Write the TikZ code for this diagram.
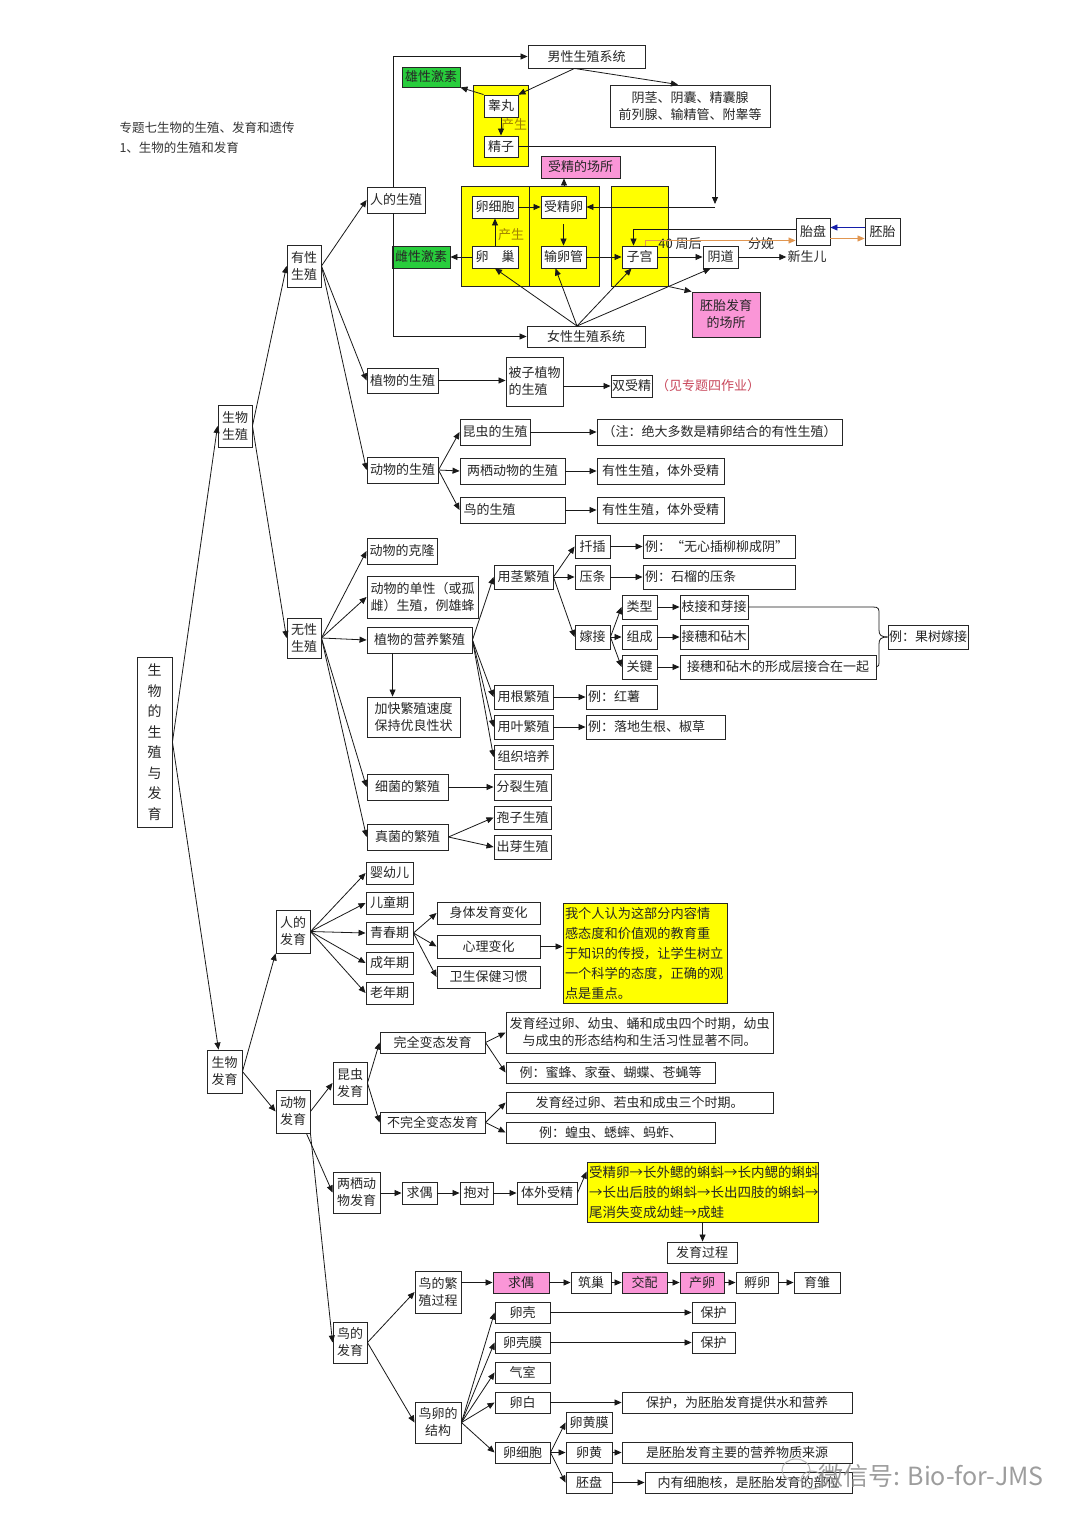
\documentclass[tikz,border=0pt]{standalone}
\usepackage{fontspec}
\setmainfont{Noto Sans CJK SC}
\usetikzlibrary{arrows.meta,calc}
\definecolor{yelC}{RGB}{255,255,0}
\definecolor{grnC}{RGB}{40,205,60}
\definecolor{pnkC}{RGB}{250,150,215}
\definecolor{orgC}{RGB}{225,150,80}
\definecolor{bluC}{RGB}{20,30,170}
\definecolor{oliC}{RGB}{160,130,0}
\definecolor{redC}{RGB}{200,70,90}
\newcommand\B[7][]{\node[bx,#1,minimum width={#5-#3},minimum height={#6-#4}] (#2) at ({(#3+#5)/2},{(#4+#6)/2}) {#7};}
\begin{document}
\begin{tikzpicture}[x=1pt,y=-1pt,
  bx/.style={draw=black!85,line width=0.9pt,fill=white,inner sep=1pt,align=center,
    font=\fontsize{13}{17}\selectfont,text=black!85},
  yrect/.style={fill=yelC},
  grn/.style={fill=grnC},
  pnk/.style={fill=pnkC},
  ybox/.style={fill=yelC,font=\fontsize{13.2}{20}\selectfont,align=left,inner sep=2pt},
  plain/.style={inner sep=1pt,font=\fontsize{13}{16}\selectfont,text=black!85},
  arr/.style={-{Triangle[length=7pt,width=6pt]},line width=0.8pt,draw=black!90},
  ln/.style={line width=0.8pt,draw=black!90}]
\useasboundingbox[fill=white] (0,0) rectangle (1080,1526);

% title
\node[anchor=west,font=\fontsize{12.5}{15}\selectfont,text=black!80] (t1) at (116,128) {专题七生物的生殖、发育和遗传};
\node[anchor=west,font=\fontsize{12.5}{15}\selectfont,text=black!80] (t2) at (116,148) {1、生物的生殖和发育};

% root
\B[font=\fontsize{14}{20.5}\selectfont]{root}{137}{657}{172}{827}{生\\物\\的\\生\\殖\\与\\发\\育}
\B{sz}{218}{405}{252}{447}{生物\\生殖}
\B{yx}{287}{245}{321}{287}{有性\\生殖}
\B{wx}{287}{618}{321}{658}{无性\\生殖}
\B{rsz}{367}{187}{425}{213}{人的生殖}

% yellow rects
\B[yrect]{my}{473}{85}{528}{166}{}
\B[yrect]{fy1}{461}{186}{529}{286}{}
\B[yrect]{fy2}{529}{186}{599}{286}{}
\B[yrect]{fy3}{611}{186}{668}{286}{}

% male
\B{nan}{528}{45}{645}{68}{男性生殖系统}
\B[grn]{xx}{402}{67}{460}{87}{雄性激素}
\B{gw}{484}{95}{518}{117}{睾丸}
\B{jz}{484}{136}{518}{157}{精子}
\node[plain,text=oliC] (cs1) at (514,125) {产生};
\B{yj}{610}{85}{770}{127}{阴茎、阴囊、精囊腺\\前列腺、输精管、附睾等}

% female
\B[pnk]{sjcs}{541}{156}{620}{178}{受精的场所}
\B{lxb}{472}{196}{518}{218}{卵细胞}
\B{sjl}{541}{196}{586}{218}{受精卵}
\B{lc}{472}{246}{518}{268}{卵　巢}
\B{slg}{541}{246}{586}{268}{输卵管}
\B{zg}{622}{246}{657}{268}{子宫}
\B[grn]{cx}{392}{246}{450}{268}{雌性激素}
\B{yd}{703}{246}{738}{268}{阴道}
\node[plain] (xse) at (807,257) {新生儿};
\node[plain] (w40) at (680,244) {40 周后};
\node[plain] (fm) at (761,244) {分娩};
\node[plain,text=oliC] (cs2) at (511,235) {产生};
\B{tp}{796}{218}{830}{245}{胎盘}
\B{pt}{865}{218}{900}{245}{胚胎}
\B[pnk]{ptfy}{692}{292}{760}{337}{胚胎发育\\的场所}
\B{nv}{527}{326}{645}{347}{女性生殖系统}

% plants & animals
\B{zwsz}{367}{368}{438}{393}{植物的生殖}
\B[align=left]{bz}{506}{357}{563}{406}{被子植物\\的生殖}
\B{ssj}{611}{375}{652}{397}{双受精}
\node[plain,anchor=west,text=redC] (jzt) at (655,386) {（见专题四作业）};
\B{dwsz}{367}{457}{438}{483}{动物的生殖}
\B{kc}{460}{419}{530}{445}{昆虫的生殖}
\B{lq}{460}{458}{565}{484}{两栖动物的生殖}
\B[text width=98pt,align=left]{nsz}{460}{497}{565}{523}{鸟的生殖}
\B{zhu}{597}{419}{842}{445}{（注：绝大多数是精卵结合的有性生殖）}
\B{yx1}{597}{458}{724}{484}{有性生殖，体外受精}
\B{yx2}{597}{497}{724}{523}{有性生殖，体外受精}

% asexual
\B{kl}{367}{538}{437}{564}{动物的克隆}
\B[align=left]{dx}{367}{576}{478}{618}{动物的单性（或孤\\雌）生殖，例雄蜂}
\B{yy}{367}{627}{472}{653}{植物的营养繁殖}
\B[align=left]{jk}{367}{697}{460}{737}{加快繁殖速度\\保持优良性状}
\B{xj}{367}{774}{448}{800}{细菌的繁殖}
\B{zj}{367}{824}{448}{850}{真菌的繁殖}
\B{yj1}{494}{565}{553}{589}{用茎繁殖}
\B{yg}{494}{685}{553}{709}{用根繁殖}
\B{yyf}{494}{715}{553}{739}{用叶繁殖}
\B{zz}{494}{745}{553}{769}{组织培养}
\B{qc}{575}{535}{610}{558}{扦插}
\B{yt}{575}{565}{610}{589}{压条}
\B{jj}{575}{625}{610}{649}{嫁接}
\B[text width=148pt,align=left]{l1}{643}{535}{795}{558}{例：“无心插柳柳成阴”}
\B[text width=148pt,align=left]{l2}{643}{565}{795}{589}{例：石榴的压条}
\B{lx}{622}{595}{657}{619}{类型}
\B{zc}{622}{625}{657}{649}{组成}
\B{gj}{622}{655}{657}{679}{关键}
\B{zjm}{680}{595}{748}{619}{枝接和芽接}
\B{jsz}{680}{625}{748}{649}{接穗和砧木}
\B{xcc}{680}{655}{876}{679}{接穗和砧木的形成层接合在一起}
\B{gs}{888}{625}{968}{649}{例：果树嫁接}
\B[text width=67pt,align=left]{hs}{586}{685}{657}{709}{例：红薯}
\B[text width=135pt,align=left]{ld}{586}{715}{725}{739}{例：落地生根、椒草}
\B{fl}{494}{774}{551}{800}{分裂生殖}
\B{bzs}{494}{806}{551}{829}{孢子生殖}
\B{cy}{494}{835}{551}{859}{出芽生殖}

% human development
\B{fy}{207}{1050}{242}{1093}{生物\\发育}
\B{rfy}{276}{910}{310}{953}{人的\\发育}
\B{yye}{366}{862}{413}{884}{婴幼儿}
\B{etq}{366}{892}{413}{914}{儿童期}
\B{qcq}{366}{922}{413}{944}{青春期}
\B{cnq}{366}{952}{413}{974}{成年期}
\B{lnq}{366}{982}{413}{1004}{老年期}
\B{stf}{437}{902}{540}{924}{身体发育变化}
\B{xlb}{437}{935}{540}{958}{心理变化}
\B{wsb}{437}{966}{540}{988}{卫生保健习惯}
\B[ybox,text width=160pt]{note}{563}{903}{727}{1003}{我个人认为这部分内容情\\感态度和价值观的教育重\\于知识的传授，让学生树立\\一个科学的态度，正确的观\\点是重点。}

% animal development
\B{dwfy}{276}{1090}{310}{1133}{动物\\发育}
\B{kcfy}{333}{1062}{367}{1104}{昆虫\\发育}
\B{wq}{380}{1032}{485}{1053}{完全变态发育}
\B{bwq}{380}{1112}{485}{1133}{不完全变态发育}
\B{wq1}{506}{1012}{773}{1053}{发育经过卵、幼虫、蛹和成虫四个时期，幼虫\\与成虫的形态结构和生活习性显著不同。}
\B{wq2}{506}{1062}{715}{1083}{例：蜜蜂、家蚕、蝴蝶、苍蝇等}
\B{bw1}{506}{1092}{773}{1113}{发育经过卵、若虫和成虫三个时期。}
\B{bw2}{506}{1122}{715}{1143}{例：蝗虫、蟋蟀、蚂蚱、}
\B{lqfy}{333}{1172}{380}{1213}{两栖动\\物发育}
\B{qo}{402}{1182}{437}{1204}{求偶}
\B{bd}{460}{1182}{493}{1204}{抱对}
\B{twsj}{517}{1182}{577}{1204}{体外受精}
\B[ybox,font=\fontsize{13.5}{20}\selectfont,text width=227pt]{kd}{587}{1162}{818}{1222}{受精卵→长外鳃的蝌蚪→长内鳃的蝌蚪\\→长出后肢的蝌蚪→长出四肢的蝌蚪→\\尾消失变成幼蛙→成蛙}
\B{fygc}{667}{1242}{737}{1263}{发育过程}

% bird
\B{nfy}{333}{1322}{367}{1363}{鸟的\\发育}
\B{nfz}{415}{1271}{461}{1313}{鸟的繁\\殖过程}
\B{njg}{415}{1402}{461}{1443}{鸟卵的\\结构}
\B[pnk]{nq}{493}{1272}{549}{1293}{求偶}
\B{zc2}{571}{1272}{611}{1293}{筑巢}
\B[pnk]{jp}{622}{1272}{667}{1293}{交配}
\B[pnk]{cl}{680}{1272}{724}{1293}{产卵}
\B{fl2}{736}{1272}{778}{1293}{孵卵}
\B{yc}{794}{1272}{840}{1293}{育雏}
\B{lk}{495}{1302}{550}{1323}{卵壳}
\B{lkm}{495}{1332}{550}{1353}{卵壳膜}
\B{qs}{495}{1362}{550}{1383}{气室}
\B{lb}{495}{1392}{550}{1413}{卵白}
\B{lxb2}{495}{1442}{550}{1463}{卵细胞}
\B{bh1}{692}{1302}{735}{1323}{保护}
\B{bh2}{692}{1332}{735}{1353}{保护}
\B{bh3}{622}{1392}{852}{1413}{保护，为胚胎发育提供水和营养}
\B{lhm}{566}{1412}{612}{1433}{卵黄膜}
\B{lh}{566}{1442}{612}{1463}{卵黄}
\B{pp}{566}{1472}{612}{1493}{胚盘}
\B{lh2}{622}{1442}{852}{1463}{是胚胎发育主要的营养物质来源}
\B{pp2}{645}{1472}{852}{1493}{内有细胞核，是胚胎发育的部位}

% ===== connectors =====
\draw[arr] (root.east) -- (sz.west);
\draw[arr] (root.east) -- ($(fy.north)+(-6,0)$);
\draw[arr] (sz.east) -- (yx.west);
\draw[arr] (sz.east) -- (wx.west);
\draw[arr] (yx.east) -- (rsz.west);
\draw[arr] (yx.east) -- (zwsz.west);
\draw[arr] (yx.east) -- (dwsz.west);

% human reproduction
\draw[arr] ($(rsz.north)+(-3,0)$) |- (nan.west);
\draw[arr] ($(rsz.south)+(-3,0)$) |- (nv.west);
\draw[arr] ($(nan.south)+(-12,0)$) -- (gw.north east);
\draw[arr] ($(nan.south)+(-12,0)$) -- ($(yj.north)+(-12,0)$);
\draw[arr] (gw.north west) -- (xx.south east);
\draw[arr] (gw.south) -- (jz.north);
\coordinate (jn) at (715,204);
\draw[arr] (jz.east) -| (jn);
\draw[arr] (jn |- sjl.east) -- (sjl.east);
\draw[arr] (fy2.north) -- (fy2.north |- sjcs.south);
\draw[arr] (lc.north) -- (lxb.south);
\draw[arr] (lxb.east) -- (sjl.west);
\draw[arr] ($(sjl.south)+(0,6)$) -- (slg.north);
\draw[arr] (slg.east) -- (zg.west);
\draw[arr] (lc.west) -- (cx.east);
\draw[arr] (zg.east) -- (yd.west);
\draw[arr] (yd.east) -- (xse.west);
\coordinate (nvt) at (577,326);
\draw[arr] (nvt) -- (lc.south);
\draw[arr] (nvt) -- ($(slg.south)+(-8,0)$);
\draw[arr] (nvt) -- ($(zg.south)+(-8,0)$);
\draw[arr] (nvt) -- ($(yd.south)+(-10,0)$);
\draw[arr] (fy3.south east) -- (ptfy.north west);
\draw[arr] ($(tp.west)+(0,-2)$) -| ($(zg.north)+(-6,0)$);
\draw[arr,draw=orgC] ($(zg.north east)+(-12,0)$) |- ($(tp.west)+(0,9)$);
\draw[arr,draw=bluC] ($(pt.west)+(0,-4)$) -- ($(tp.east)+(0,-4)$);
\draw[arr,draw=orgC] ($(tp.east)+(0,7)$) -- ($(pt.west)+(0,7)$);

% plants & animals
\draw[arr] (zwsz.east) -- (bz.west |- zwsz.east);
\draw[arr] (bz.east |- ssj.west) -- (ssj.west);
\draw[arr] (dwsz.east) -- (kc.west);
\draw[arr] (dwsz.east) -- (lq.west);
\draw[arr] (dwsz.east) -- (nsz.west);
\draw[arr] (kc.east) -- (zhu.west);
\draw[arr] (lq.east) -- (yx1.west);
\draw[arr] (nsz.east) -- (yx2.west);

% asexual
\draw[arr] (wx.east) -- (kl.west);
\draw[arr] (wx.east) -- (dx.west);
\draw[arr] (wx.east) -- (yy.west);
\draw[arr] (wx.east) -- (xj.west);
\draw[arr] (wx.east) -- (zj.west);
\draw[arr] ($(yy.south west)+(26,0)$) -- ($(jk.north west)+(26,0)$);
\draw[arr] (yy.east) -- (yj1.west);
\draw[arr] (yy.east) -- (yg.west);
\draw[arr] (yy.east) -- (yyf.west);
\draw[arr] (yy.east) -- (zz.west);
\draw[arr] (yj1.east) -- (qc.west);
\draw[arr] (yj1.east) -- (yt.west);
\draw[arr] (yj1.east) -- (jj.west);
\draw[arr] (qc.east) -- (l1.west);
\draw[arr] (yt.east) -- (l2.west);
\draw[arr] (jj.east) -- (lx.west);
\draw[arr] (jj.east) -- (zc.west);
\draw[arr] (jj.east) -- (gj.west);
\draw[arr] (lx.east) -- (zjm.west);
\draw[arr] (zc.east) -- (jsz.west);
\draw[arr] (gj.east) -- (xcc.west);
\draw[ln] (zjm.east) -- (873,607) .. controls (879,607) and (879,609) .. (879,614) -- (879,630) .. controls (879,635) and (881,637) .. (gs.west);
\draw[ln] (xcc.east) .. controls (879,667) and (879,665) .. (879,660) -- (879,644) .. controls (879,639) and (881,637) .. (gs.west);
\draw[arr] (yg.east) -- (hs.west);
\draw[arr] (yyf.east) -- (ld.west);
\draw[arr] (xj.east) -- (fl.west);
\draw[arr] (zj.east) -- (bzs.west);
\draw[arr] (zj.east) -- (cy.west);

% development
\draw[arr] (fy.east) -- (rfy.south west);
\draw[arr] (fy.east) -- (dwfy.west);
\draw[arr] (rfy.east) -- (yye.west);
\draw[arr] (rfy.east) -- (etq.west);
\draw[arr] (rfy.east) -- (qcq.west);
\draw[arr] (rfy.east) -- (cnq.west);
\draw[arr] (rfy.east) -- (lnq.west);
\draw[arr] (qcq.east) -- (stf.west);
\draw[arr] (qcq.east) -- (xlb.west);
\draw[arr] (qcq.east) -- (wsb.west);
\draw[arr] (xlb.east) -- (note.west |- xlb.east);
\draw[arr] (dwfy.east) -- (kcfy.west);
\draw[arr] ($(dwfy.south east)+(-4,0)$) -- (lqfy.west);
\draw[arr] (dwfy.south east) -- (nfy.west);
\draw[arr] (kcfy.east) -- (wq.west);
\draw[arr] (kcfy.east) -- (bwq.west);
\draw[arr] (wq.east) -- (wq1.west);
\draw[arr] (wq.east) -- (wq2.west);
\draw[arr] (bwq.east) -- (bw1.west);
\draw[arr] (bwq.east) -- (bw2.west);
\draw[arr] (lqfy.east |- qo.west) -- (qo.west);
\draw[arr] (qo.east) -- (bd.west);
\draw[arr] (bd.east) -- (twsj.west);
\draw[arr] (twsj.east) -- ($(kd.north west)+(0,10)$);
\draw[arr] ($(kd.south west)+(116,0)$) -- ($(fygc.north west)+(36,0)$);
\draw[arr] (nfy.east) -- (nfz.west);
\draw[arr] (nfy.east) -- (njg.west);
\draw[arr] (nfz.east |- nq.west) -- (nq.west);
\draw[arr] (nq.east) -- (zc2.west);
\draw[arr] (zc2.east) -- (jp.west);
\draw[arr] (jp.east) -- (cl.west);
\draw[arr] (cl.east) -- (fl2.west);
\draw[arr] (fl2.east) -- (yc.west);
\draw[arr] (njg.east) -- (lk.west);
\draw[arr] (njg.east) -- (lkm.west);
\draw[arr] (njg.east) -- (qs.west);
\draw[arr] (njg.east) -- (lb.west);
\draw[arr] (njg.east) -- (lxb2.west);
\draw[arr] (lk.east) -- (bh1.west);
\draw[arr] (lkm.east) -- (bh2.west);
\draw[arr] (lb.east) -- (bh3.west);
\draw[arr] (lxb2.east) -- (lhm.west);
\draw[arr] (lxb2.east) -- (lh.west);
\draw[arr] (lxb2.east) -- (pp.west);
\draw[arr] (lh.east) -- (lh2.west);
\draw[arr] (pp.east) -- (pp2.west);

% watermark
\draw[black!35,line width=1pt,opacity=0.8] (796,1470) ellipse (14 and 11);
\draw[black!35,line width=1pt,opacity=0.8] (812,1480) ellipse (11 and 9);
\node[anchor=west,font=\fontsize{25}{28}\selectfont,text=black!45,opacity=0.85,inner sep=0] (wm) at (818,1476) {微信号: Bio-for-JMS};
\end{tikzpicture}
\end{document}
